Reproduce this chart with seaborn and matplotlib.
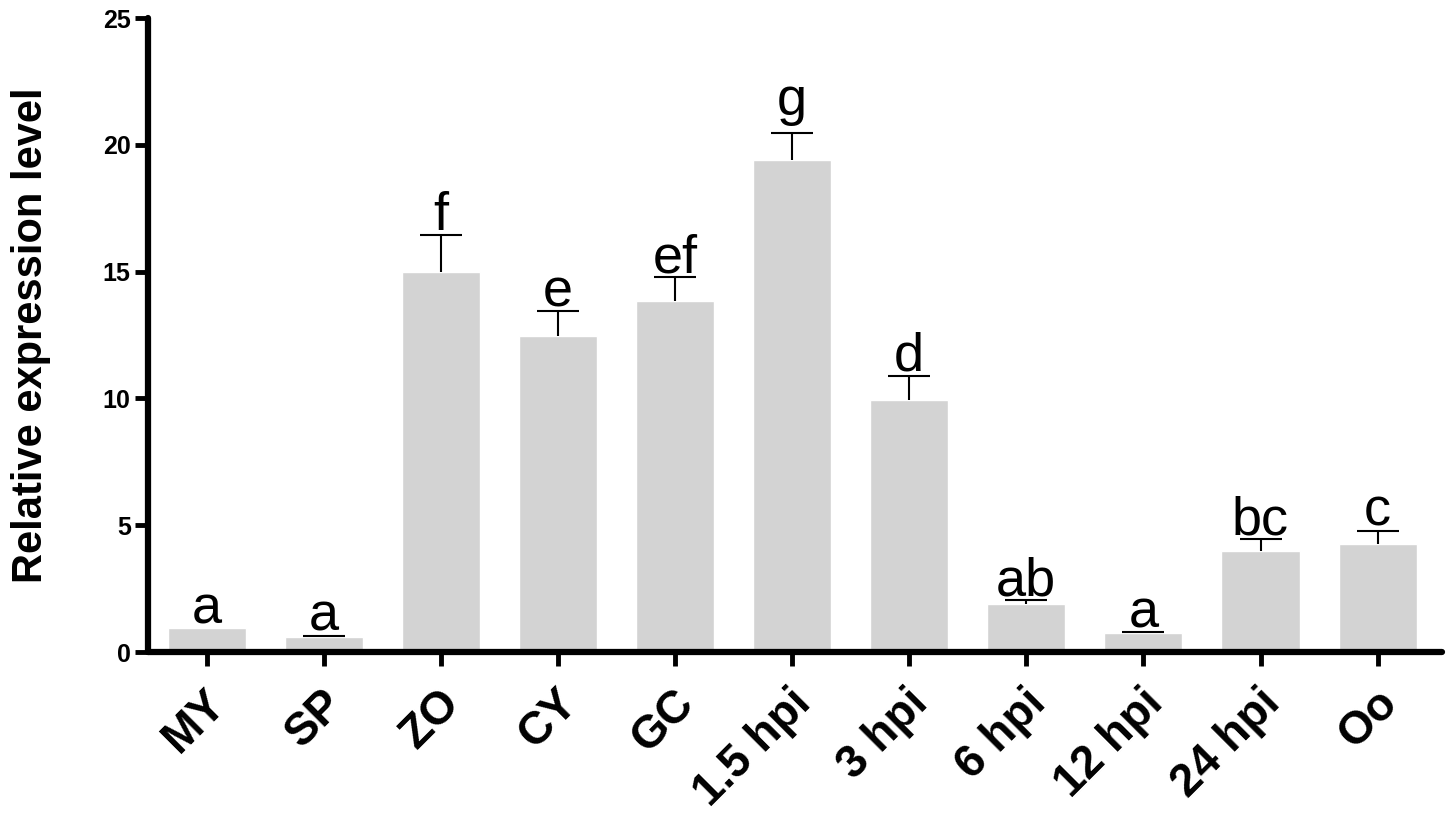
import matplotlib
matplotlib.use("Agg")
import matplotlib.pyplot as plt
import matplotlib.transforms as mtransforms
import seaborn as sns
import pandas as pd
import numpy as np

stages = ["MY", "SP", "ZO", "CY", "GC", "1.5 hpi", "3 hpi", "6 hpi", "12 hpi", "24 hpi", "Oo"]
expression = [0.95, 0.60, 15.00, 12.46, 13.85, 19.42, 9.94, 1.89, 0.74, 4.00, 4.25]
error_up = [0.0, 0.05, 1.44, 0.99, 0.93, 1.06, 0.96, 0.16, 0.05, 0.44, 0.53]
groups = ["a", "a", "f", "e", "ef", "g", "d", "ab", "a", "bc", "c"]

df = pd.DataFrame({"stage": stages, "expression": expression, "error": error_up, "group": groups})

sns.set_style("ticks")
plt.rcParams["font.family"] = ["Liberation Sans", "DejaVu Sans"]
for key in ["text.color", "axes.edgecolor", "axes.labelcolor", "xtick.color", "ytick.color"]:
    plt.rcParams[key] = "black"

fig = plt.figure(figsize=(14.5, 8.22), dpi=100)
ax = fig.add_axes([0.1021, 0.2068, 0.8924, 0.7713])

sns.barplot(data=df, x="stage", y="expression", color="#d3d3d3", saturation=1,
            width=0.667, errorbar=None, ax=ax)

# upward-only error bars, hide lower caps
pos = np.arange(len(df))
has_err = df["error"].values > 0
eb = ax.errorbar(pos[has_err], df["expression"].values[has_err],
                 yerr=[np.zeros(has_err.sum()), df["error"].values[has_err]],
                 fmt="none", ecolor="black", elinewidth=1.5, capsize=14.8, capthick=1.5)
eb[1][0].set_visible(False)

tops = df["expression"] + df["error"]
for i, (t, g) in enumerate(zip(tops, df["group"])):
    # letters with a descender sit higher so the tail clears the cap
    lift = 13 if any(c in "gjpqy" for c in g) else 3.5
    ax.annotate(g, (i, t), xytext=(0, lift), textcoords="offset points",
                ha="center", va="baseline", fontsize=39)

ax.set_xlim(-0.5, 10.55)
ax.set_ylim(0, 25)
ax.set_yticks([0, 5, 10, 15, 20, 25])

sns.despine(ax=ax)
for side in ["left", "bottom"]:
    ax.spines[side].set_linewidth(4.5)
    ax.spines[side].set_capstyle("round")

ax.tick_params(axis="x", length=10, width=3.5, pad=11, labelsize=33)
ax.tick_params(axis="y", length=9.5, width=3.5, pad=3, labelsize=18)
shift = mtransforms.ScaledTranslation(-3 / 100, 0, fig.dpi_scale_trans)
for lab in ax.get_xticklabels():
    lab.set_transform(lab.get_transform() + shift)
plt.setp(ax.get_xticklabels(), rotation=45, ha="right", va="top",
         rotation_mode="anchor", fontweight="bold")
plt.setp(ax.get_yticklabels(), fontweight="bold")

ax.set_xlabel("")
ax.set_ylabel("Relative expression level", fontsize=30, fontweight="bold")
ax.yaxis.set_label_coords(-0.075, 0.5)

fig.savefig("out.png", dpi=100)
